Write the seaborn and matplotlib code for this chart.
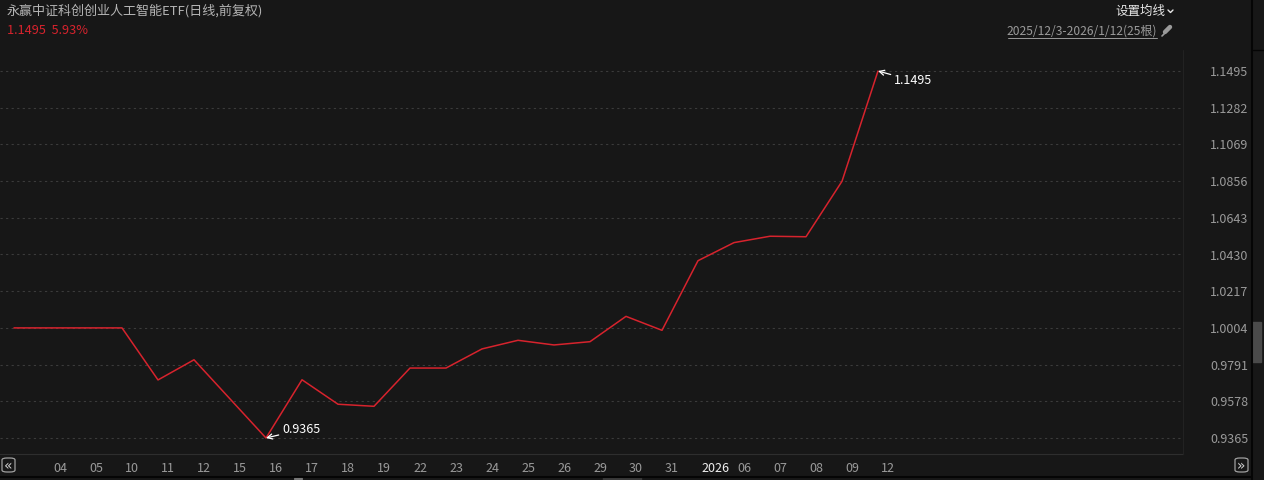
import numpy as np
import pandas as pd
import seaborn as sns
import matplotlib.pyplot as plt
import matplotlib.transforms as mtransforms
from matplotlib.lines import Line2D
from matplotlib.patches import Rectangle, FancyBboxPatch

# daily closes, 2025/12/3 - 2026/1/12 (25 bars)
day_labels = ["03", "04", "05", "10", "11", "12", "15", "16", "17", "18", "19", "22", "23",
              "24", "25", "26", "29", "30", "31", "2026", "06", "07", "08", "09", "12"]
closes = [1.0004, 1.0004, 1.0004, 1.0004, 0.9702, 0.9819, 0.9592, 0.9365, 0.9703, 0.9561,
          0.9549, 0.9771, 0.9771, 0.9882, 0.9932, 0.9905, 0.9924, 1.0071, 0.9990, 1.0394,
          1.0499, 1.0536, 1.0533, 1.0855, 1.1495]
y_ticks = [0.9365, 0.9578, 0.9791, 1.0004, 1.0217, 1.0430, 1.0643, 1.0856, 1.1069, 1.1282, 1.1495]

title = "永赢中证科创创业人工智能ETF(日线,前复权)"
last_info = "1.1495  5.93%"
period = "2025/12/3-2026/1/12(25根)"

BG = "#171717"
RED = "#d7232d"
GRAY = "#9a9a9a"

sns.set_theme(style="dark")
plt.rcParams["font.family"] = ["Noto Sans CJK SC", "DejaVu Sans"]

df = pd.DataFrame({"idx": np.arange(len(closes)), "close": closes})

W, H = 1264, 480
fig = plt.figure(figsize=(W / 100, H / 100), dpi=100, facecolor=BG)


def fx(px):
    return px / W


def fy(py):
    return 1 - py / H


ax = fig.add_axes([0, fy(454), fx(1183), (454 - 48) / H])
ax.set_facecolor(BG)

sns.lineplot(data=df, x="idx", y="close", ax=ax, color=RED, linewidth=1.1)

ax.set_xlim(-14 / 36, (1183 - 14) / 36)
ax.set_ylim(0.9365 - 16 / 367 * 0.213, 1.1495 + 23 / 367 * 0.213)

for v in y_ticks:
    ax.axhline(v, color="#3b3b3b", linewidth=0.8, linestyle=(0, (2, 3)), zorder=0)

# y labels on the right
ax.yaxis.tick_right()
ax.set_yticks(y_ticks)
ax.set_yticklabels([f"{v:.4f}" for v in y_ticks], color=GRAY, fontsize=9)
ax.tick_params(axis="y", length=0, pad=47)
for lab in ax.get_yticklabels():
    lab.set_horizontalalignment("right")

# x labels, left aligned just right of each bar
ax.set_xticks(df["idx"][1:])
ax.set_xticklabels(day_labels[1:], fontsize=9, color=GRAY)
ax.tick_params(axis="x", direction="in", length=4, width=0.8, color="#3a3a3a", pad=6)
shift = mtransforms.ScaledTranslation(3 / 100, 0, fig.dpi_scale_trans)
for lab in ax.get_xticklabels():
    lab.set_horizontalalignment("left")
    lab.set_transform(lab.get_transform() + shift)
    if lab.get_text() == "2026":
        lab.set_color("#f0f0f0")

ax.set_xlabel("")
ax.set_ylabel("")
ax.grid(False)
for s in ["top", "left", "right"]:
    ax.spines[s].set_visible(False)
ax.spines["bottom"].set_color("#2e2e2e")
ax.spines["bottom"].set_linewidth(0.8)

# min / max annotations
i_min = int(np.argmin(closes))
i_max = int(np.argmax(closes))
arrow = dict(arrowstyle="->", color="white", lw=0.9, shrinkA=0, shrinkB=0)
ax.annotate(f"{closes[i_min]:.4f}", xy=(i_min, closes[i_min]), xytext=(11.5, 6),
            textcoords="offset points", color="white", fontsize=9, va="center",
            arrowprops=arrow)
ax.annotate(f"{closes[i_max]:.4f}", xy=(i_max, closes[i_max]), xytext=(11.5, -7),
            textcoords="offset points", color="white", fontsize=9, va="center",
            arrowprops=arrow)

# separators and side strip
fig.add_artist(Line2D([fx(1183), fx(1183)], [fy(454), fy(50)], color="#222222", lw=0.8))
fig.add_artist(Line2D([0, fx(1251)], [fy(476.5), fy(476.5)], color="#050505", lw=1.5))
fig.add_artist(Line2D([fx(1251.5), fx(1251.5)], [0, 1], color="#050505", lw=1.5))
fig.add_artist(Rectangle((fx(1252), fy(362)), fx(9), 40 / H, color="#4a4a4a"))
fig.add_artist(Line2D([fx(1253), fx(1264)], [fy(50), fy(50)], color="#050505", lw=1))

# header texts
fig.text(fx(7), fy(11), title, color="#b4b4b4", fontsize=9.4, va="center")
fig.text(fx(7), fy(31), last_info, color=RED, fontsize=9.2, va="center")
fig.text(fx(1165), fy(11), "设置均线", color="#e6e6e6", fontsize=9, va="center", ha="right")
fig.add_artist(Line2D([fx(1168), fx(1170.5), fx(1173)], [fy(10), fy(12.5), fy(10)],
                      color="#e6e6e6", lw=1))
fig.text(fx(1157), fy(31), period, color=GRAY, fontsize=8.7, va="center", ha="right")
fig.add_artist(Line2D([fx(1008), fx(1157)], [fy(38), fy(38)], color=GRAY, lw=0.7))
fig.add_artist(Line2D([fx(1162), fx(1166)], [fy(36), fy(32)], color="#9a9a9a", lw=1.2))
fig.add_artist(Line2D([fx(1165), fx(1170)], [fy(32), fy(27)], color="#9a9a9a", lw=3.2))

# scroll buttons
for x0, sym in [(2, "«"), (1235, "»")]:
    fig.add_artist(FancyBboxPatch((fx(x0), fy(472)), fx(13), 14 / H,
                                  boxstyle="round,pad=0,rounding_size=0.004",
                                  fc=BG, ec="#a0a0a0", lw=0.9))
    fig.text(fx(x0 + 6.5), fy(465.5), sym, color="#d0d0d0", fontsize=10, ha="center",
             va="center", family="DejaVu Sans")

for yy in [477.5, 479]:
    fig.add_artist(Line2D([fx(294), fx(302)], [fy(yy), fy(yy)], color="#777777", lw=0.8))
fig.add_artist(Rectangle((fx(603), 0), fx(38), 3 / H, color="#3a3a3a"))

fig.savefig("out.png", dpi=100, facecolor=BG)
